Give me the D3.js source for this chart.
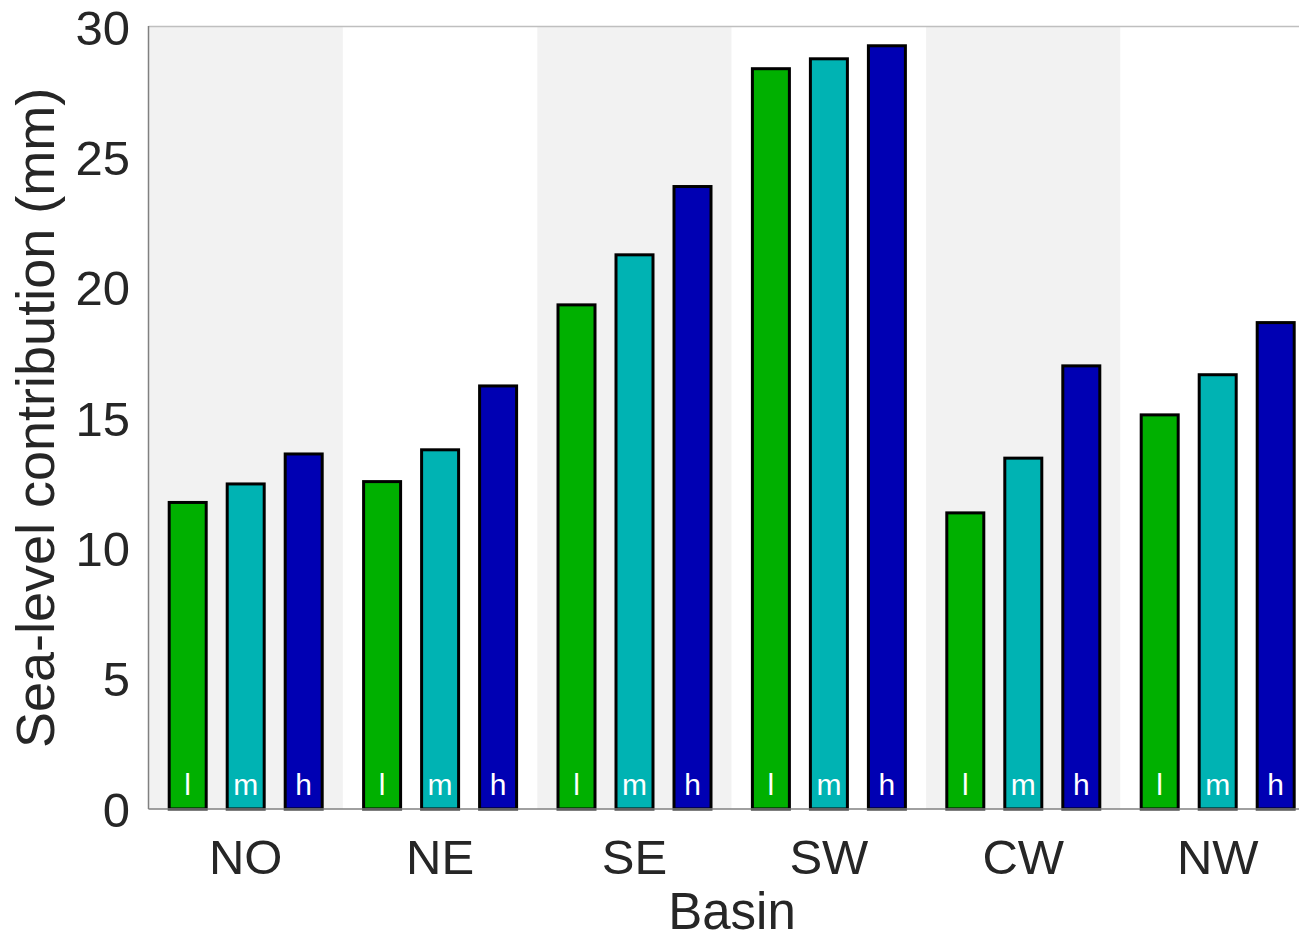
<!DOCTYPE html>
<html>
<head>
<meta charset="utf-8">
<script src="https://cdn.jsdelivr.net/npm/d3@7"></script>
<style>
body { margin: 0; background: #fff; }
text { font-family: "Liberation Sans", Arial, sans-serif; fill: #262626; }
</style>
</head>
<body>
<div id="chart"></div>
<script>
var basins = ["NO", "NE", "SE", "SW", "CW", "NW"];
var levels = ["l", "m", "h"];
var lowValues = [11.76, 12.56, 19.34, 28.40, 11.36, 15.12];
var midValues = [12.47, 13.78, 21.26, 28.78, 13.46, 16.66];
var highValues = [13.62, 16.23, 23.88, 29.28, 17.00, 18.66];
var yTicks = [0, 5, 10, 15, 20, 25, 30];
var colors = ["#00b000", "#00b3b3", "#0000b3"];

var width = 1299;
var height = 941;
var plotLeft = 148.5;
var plotTop = 27;
var plotBottom = 809;
var bandStep = 194.4;
var barWidth = 37;

var svg = d3.select("#chart")
	.append("svg")
	.attr("width", width)
	.attr("height", height);

var x = d3.scaleBand()
	.domain(basins)
	.range([plotLeft, plotLeft + bandStep * basins.length]);

var xInner = d3.scalePoint()
	.domain(levels)
	.range([-58, 58]);

var y = d3.scaleLinear()
	.domain([0, 30])
	.range([plotBottom, plotTop]);

// background bands, every other one grey
svg.selectAll(".band")
	.data(basins)
	.enter().append("rect")
	.attr("class", "band")
	.attr("x", function(d) { return x(d); })
	.attr("y", plotTop)
	.attr("width", x.bandwidth())
	.attr("height", plotBottom - plotTop)
	.style("fill", function(d, i) { return i % 2 == 0 ? "#f2f2f2" : "#fff"; });

var rows = [];
for (var b = 0; b < basins.length; b++) {
	var vals = [lowValues[b], midValues[b], highValues[b]];
	for (var k = 0; k < levels.length; k++) {
		rows.push({ basin: basins[b], level: levels[k], value: vals[k], color: colors[k] });
	}
}

var cx = function(d) { return x(d.basin) + x.bandwidth() / 2 + xInner(d.level); };

svg.selectAll(".bar")
	.data(rows)
	.enter().append("rect")
	.attr("class", "bar")
	.attr("x", function(d) { return cx(d) - barWidth / 2; })
	.attr("y", function(d) { return y(d.value); })
	.attr("width", barWidth)
	.attr("height", function(d) { return y(0) - y(d.value); })
	.style("fill", function(d) { return d.color; })
	.style("stroke", "#000")
	.style("stroke-width", 3);

svg.selectAll(".barLabel")
	.data(rows)
	.enter().append("text")
	.attr("class", "barLabel")
	.attr("x", cx)
	.attr("y", plotBottom - 14)
	.attr("text-anchor", "middle")
	.style("font-size", "30px")
	.style("fill", "#fff")
	.text(function(d) { return d.level; });

// axes frame
svg.append("line")
	.attr("x1", plotLeft).attr("x2", width)
	.attr("y1", plotTop - 0.5).attr("y2", plotTop - 0.5)
	.style("stroke", "#bfbfbf").style("stroke-width", 1.5);
svg.append("line")
	.attr("x1", plotLeft).attr("x2", width)
	.attr("y1", plotBottom).attr("y2", plotBottom)
	.style("stroke", "#808080").style("stroke-width", 1.5);
svg.append("line")
	.attr("x1", plotLeft).attr("x2", plotLeft)
	.attr("y1", plotTop - 1).attr("y2", plotBottom)
	.style("stroke", "#808080").style("stroke-width", 1.5);

// y tick labels
svg.selectAll(".yTick")
	.data(yTicks)
	.enter().append("text")
	.attr("class", "yTick")
	.attr("x", 130)
	.attr("y", function(d) { return y(d); })
	.attr("dy", "0.36em")
	.attr("text-anchor", "end")
	.style("font-size", "49px")
	.text(function(d) { return d; });

// x tick labels
svg.selectAll(".xTick")
	.data(basins)
	.enter().append("text")
	.attr("class", "xTick")
	.attr("x", function(d) { return x(d) + x.bandwidth() / 2; })
	.attr("y", 874)
	.attr("text-anchor", "middle")
	.style("font-size", "49px")
	.text(function(d) { return d; });

svg.append("text")
	.attr("x", 732)
	.attr("y", 929)
	.attr("text-anchor", "middle")
	.style("font-size", "51px")
	.text("Basin");

svg.append("text")
	.attr("transform", "translate(54," + ((plotTop + plotBottom) / 2) + ") rotate(-90)")
	.attr("text-anchor", "middle")
	.style("font-size", "54px")
	.text("Sea-level contribution (mm)");
</script>
</body>
</html>
